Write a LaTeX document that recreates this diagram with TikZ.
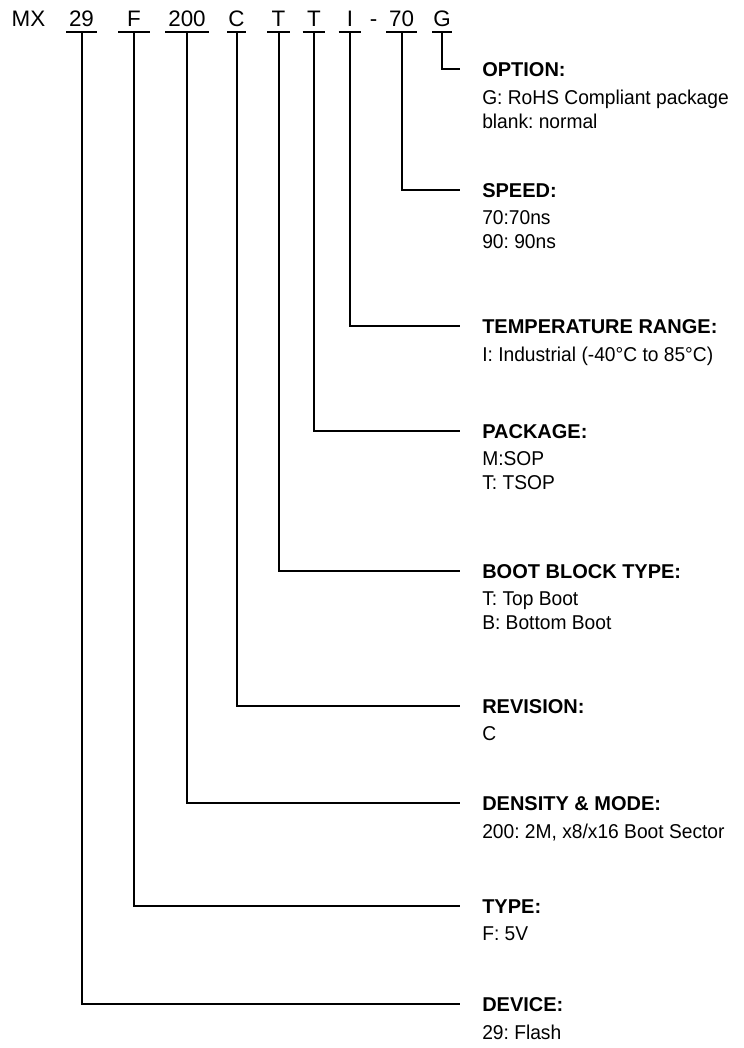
\documentclass[tikz,border=0pt]{standalone}
\usepackage{fontspec}
\setmainfont{Liberation Sans}
\newfontfamily\descfont{Liberation Sans}[FakeStretch=0.96]
\usetikzlibrary{positioning}
\tikzset{
    part/.style={anchor=base,inner xsep=0pt,inner ysep=3.75pt,text height=12pt,text depth=0pt,font=\fontsize{16.8}{18}\selectfont},
    head/.style={anchor=west,inner xsep=16.5pt,inner ysep=0pt,text height=10.7pt,text depth=0pt,font=\fontsize{15}{18}\selectfont\bfseries\frenchspacing},
    desc/.style={anchor=north west,inner xsep=16.5pt,inner ysep=0pt,align=left,font=\descfont\fontsize{15}{18}\selectfont\frenchspacing},
    conn/.style={line width=1.5pt}
}
\begin{document}
\begin{tikzpicture}[x=0.75pt,y=-0.75pt]
        \useasboundingbox (0,0) rectangle (743,1048);
        \node[part] (mx) at (28.5,27) {MX};
        \node[part,minimum width=22.5pt] (p29) at (81.5,27) {29};
        \node[part,minimum width=23.25pt] (pF) at (134,27) {F};
        \node[part,minimum width=32.25pt] (p200) at (187,27) {200};
        \node[part,minimum width=13.5pt] (pC) at (236.5,27) {C};
        \node[part,minimum width=16.5pt] (pT) at (278.5,27) {T};
        \node[part,minimum width=16.5pt] (pTb) at (314,27) {T};
        \node[part,minimum width=16.5pt] (pI) at (350,27) {I};
        \node[part] (hy) at (373.5,27) {-};
        \node[part,minimum width=22.5pt] (p70) at (401.5,27) {70};
        \node[part,minimum width=14.25pt] (pG) at (442,27) {G};
        \node[head] (hopt) at (460,69) {OPTION:};
        \node[below=10pt of hopt.south west,desc] (dopt) {G: RoHS Compliant package\\blank: normal};
        \node[head] (hspd) at (460,190) {SPEED:};
        \node[below=10pt of hspd.south west,desc] (dspd) {70:70ns\\90: 90ns};
        \node[head] (htmp) at (460,326) {TEMPERATURE RANGE:};
        \node[below=10pt of htmp.south west,desc] (dtmp) {I: Industrial (-40°C to 85°C)};
        \node[head] (hpkg) at (460,431) {PACKAGE:};
        \node[below=10pt of hpkg.south west,desc] (dpkg) {M:SOP\\T: TSOP};
        \node[head] (hboot) at (460,571) {BOOT BLOCK TYPE:};
        \node[below=10pt of hboot.south west,desc] (dboot) {T: Top Boot\\B: Bottom Boot};
        \node[head] (hrev) at (460,706) {REVISION:};
        \node[below=10pt of hrev.south west,desc] (drev) {C};
        \node[head] (hden) at (460,803) {DENSITY \& MODE:};
        \node[below=10pt of hden.south west,desc] (dden) {200: 2M, x8/x16 Boot Sector};
        \node[head] (htype) at (460,906) {TYPE:};
        \node[below=10pt of htype.south west,desc] (dtype) {F: 5V};
        \node[head] (hdev) at (460,1004) {DEVICE:};
        \node[below=10pt of hdev.south west,desc] (ddev) {29: Flash};
        \draw[conn](p29.south west)--(p29.south east);
        \draw[conn](pF.south west)--(pF.south east);
        \draw[conn](p200.south west)--(p200.south east);
        \draw[conn](pC.south west)--(pC.south east);
        \draw[conn](pT.south west)--(pT.south east);
        \draw[conn](pTb.south west)--(pTb.south east);
        \draw[conn](pI.south west)--(pI.south east);
        \draw[conn](p70.south west)--(p70.south east);
        \draw[conn](pG.south west)--(pG.south east);
        \draw[conn](pG.south)|-(hopt.west);
        \draw[conn](p70.south)|-(hspd.west);
        \draw[conn](pI.south)|-(htmp.west);
        \draw[conn](pTb.south)|-(hpkg.west);
        \draw[conn](pT.south)|-(hboot.west);
        \draw[conn](pC.south)|-(hrev.west);
        \draw[conn](p200.south)|-(hden.west);
        \draw[conn](pF.south)|-(htype.west);
        \draw[conn](p29.south)|-(hdev.west);
    \end{tikzpicture}
\end{document}
